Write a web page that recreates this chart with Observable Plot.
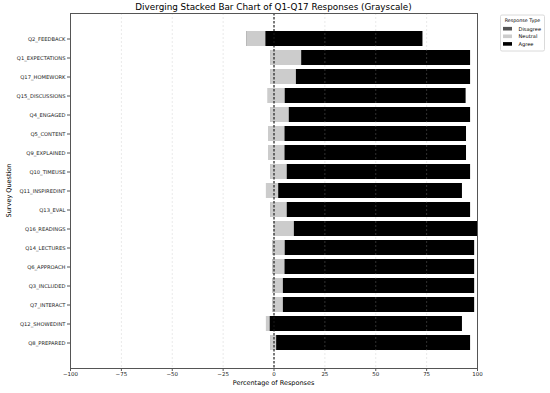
<!DOCTYPE html>
<html>
<head>
<meta charset="utf-8">
<script src="https://cdn.jsdelivr.net/npm/d3@7"></script>
<script src="https://cdn.jsdelivr.net/npm/@observablehq/plot@0.6"></script>
<style>
  html, body { margin: 0; padding: 0; background: #fff; }
  #chart { width: 550px; height: 393px; position: relative; }
</style>
</head>
<body>
<div id="chart"></div>
<script>
const categories = ["Q2_FEEDBACK","Q1_EXPECTATIONS","Q17_HOMEWORK","Q15_DISCUSSIONS","Q4_ENGAGED","Q5_CONTENT","Q9_EXPLAINED","Q10_TIMEUSE","Q11_INSPIREDINT","Q13_EVAL","Q16_READINGS","Q14_LECTURES","Q6_APPROACH","Q3_INCLUDED","Q7_INTERACT","Q12_SHOWEDINT","Q8_PREPARED"];
const disagree = [13.4, 1.7, 1.7, 2.8, 1.7, 2.7, 2.7, 1.7, 3.7, 1.7, 0.0, 0.7, 0.7, 0.7, 0.7, 3.7, 1.7];
const neutral  = [9.5, 15.3, 12.7, 8.3, 9.2, 8.1, 8.1, 8.2, 6.0, 8.2, 10.0, 6.2, 6.1, 5.3, 5.3, 1.9, 3.0];
const agree    = [77.1, 83.0, 85.6, 88.9, 89.1, 89.2, 89.2, 90.1, 90.3, 90.1, 90.0, 93.1, 93.2, 94.0, 94.0, 94.4, 95.3];
const xTicks = [-100, -75, -50, -25, 0, 25, 50, 75, 100];
const seriesNames = ["Disagree", "Neutral", "Agree"];
const seriesColors = ["#555555", "#cccccc", "#000000"];

const rows = categories.map((q, i) => ({q, d: disagree[i], n: neutral[i], a: agree[i]}));

const plot = Plot.plot({
  width: 550,
  height: 393,
  marginLeft: 70,
  marginRight: 73,
  marginTop: 13,
  marginBottom: 25,
  style: {fontFamily: "DejaVu Sans", background: "#fff", color: "#222"},
  x: {domain: [-100, 100], ticks: xTicks, label: null},
  y: {domain: categories, paddingInner: 0.2, paddingOuter: 0.745, label: null},
  marks: [
    Plot.barX(rows, {y: "q", x1: r => -r.d, x2: 0, fill: seriesColors[0], clip: true}),
    Plot.barX(rows, {y: "q", x1: r => -r.d, x2: r => -r.d + r.n, fill: seriesColors[1], clip: true}),
    Plot.barX(rows, {y: "q", x1: r => -r.d + r.n, x2: r => -r.d + r.n + r.a, fill: seriesColors[2], clip: true}),
    Plot.ruleX(xTicks.slice(1, -1), {stroke: "#b0b0b0", strokeOpacity: 0.35, strokeWidth: 0.8, strokeDasharray: "2,2"}),
    Plot.ruleX([0], {stroke: "#000", strokeWidth: 1, strokeDasharray: "2.5,1.5"}),
    Plot.frame({stroke: "#555", strokeWidth: 1}),
    Plot.axisX({ticks: xTicks, tickSize: 3, tickPadding: 0.5, fontSize: 5.5, label: null, stroke: "#555"}),
    Plot.axisY({tickSize: 3, tickPadding: 2, fontSize: 5.2, label: null, stroke: "#555"})
  ]
});
document.getElementById("chart").appendChild(plot);

const svg = d3.select(plot);
svg.append("text")
  .attr("x", 273.5).attr("y", 10)
  .attr("text-anchor", "middle")
  .attr("font-size", 8.8).attr("fill", "#000")
  .text("Diverging Stacked Bar Chart of Q1-Q17 Responses (Grayscale)");
svg.append("text")
  .attr("x", 273.5).attr("y", 384.5)
  .attr("text-anchor", "middle")
  .attr("font-size", 6.5).attr("fill", "#000")
  .text("Percentage of Responses");
svg.append("text")
  .attr("transform", "translate(10.5,190.5) rotate(-90)")
  .attr("text-anchor", "middle")
  .attr("font-size", 6.5).attr("fill", "#000")
  .text("Survey Question");

const lg = svg.append("g");
lg.append("rect").attr("x", 500.5).attr("y", 15).attr("width", 44).attr("height", 36)
  .attr("fill", "#fff").attr("stroke", "#d0d0d0").attr("stroke-width", 0.8).attr("rx", 1.5);
lg.append("text").attr("x", 522.5).attr("y", 21.8).attr("text-anchor", "middle")
  .attr("font-size", 4.8).attr("fill", "#000").text("Response Type");
seriesNames.forEach((name, i) => {
  const cy = 28.7 + i * 7.6;
  lg.append("rect").attr("x", 503).attr("y", cy - 1.8).attr("width", 9).attr("height", 3.6)
    .attr("fill", seriesColors[i]);
  lg.append("text").attr("x", 518.5).attr("y", cy + 1.8).attr("text-anchor", "start")
    .attr("font-size", 5.1).attr("fill", "#000").text(name);
});
</script>
</body>
</html>
